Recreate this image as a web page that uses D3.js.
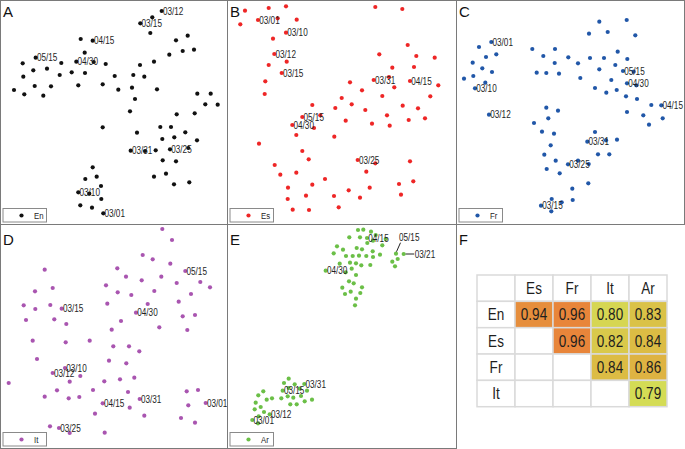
<!DOCTYPE html>
<html><head><meta charset="utf-8">
<script src="https://cdn.jsdelivr.net/npm/d3@7"></script>
<style>
html,body{margin:0;padding:0;background:#fff;}
svg{display:block;}
</style></head>
<body>
<svg id="chart" width="685" height="449"></svg>
<script>
// ---- DATA (embedding coordinates, panel units 0..228 x 0..224) ----
const enPoints = [
 [161.7,11,"03/12"],[152.3,17.3],[140.3,23.3,"03/15"],[150.3,33],[80.7,39],[92.7,40.7,"04/15"],
 [187.7,35.7],[176,40.3],[182.7,51],[194,49.7],[169.3,54.7],[84.7,52.7],[35.7,57.7,"05/15"],
 [22.7,63.3],[61.3,63],[76.3,61.7,"04/30"],[93.7,62],[105.7,64],[154,61.7],[140,65],
 [33.3,70.3],[47,68.7],[23.3,76.7],[59.7,75],[71.7,72.3],[85,73],[114.7,76],[133.3,75],[144.3,76.7],
 [14,90],[24.3,94.3],[34.7,86],[43.3,95.7],[51,86.3],[78.3,85.3],[102.7,84.3],[118.3,89.7],[132,87.7],
 [157,89.3],[135,99],[130,111.3],[197.3,93.7],[210.7,93.7],[205.3,104.3],[217.7,104.7],[194.7,113.3],
 [176.7,114.3],[102.7,127.3],[160.3,127],[171,127],[137,132.7],[162.3,139],[174.3,137.3],[185.3,132.3],
 [197,140.3],[130.7,150.7,"03/31"],[145,151],[155.7,150.3],[170,149.3,"03/25"],[188.3,148],
 [162.7,160.3],[176,161.3],[154,176.7],[166,173.7],[174,184.3],[189.3,182.3],
 [92.7,167.3],[85.3,179],[96.7,176.7],[101,186],[78.3,192.3,"03/10"],[89.3,193.7],[101.3,199],
 [80.3,205.3],[92,207.7],[103.3,213.3,"03/01"]
];
const esPoints = [
 [18,10.7],[41.7,8],[59,6.3],[148.3,7],[175.3,9],[13.3,24.3],[31,20,"03/01"],[50.7,18.3],[69.7,19.7],
 [59,32.7,"03/10"],[46,38.7],[180.7,45],[47.3,54,"03/12"],[59.7,61.7],[152.3,54.3],[189.3,56],[207.7,57.7],
 [41.7,65],[54.7,73,"03/15"],[165.3,67.7],[187,67],[38.3,81.3],[37.7,94],[146.7,80,"03/31"],[162,77],
 [183,81,"04/15"],[123,82.3],[167.3,87.3],[211.3,85.3],[135,90.3],[114.7,98],[155.3,96],[203.3,96.3],
 [85.3,105],[124.7,104.3],[108.3,108],[138.3,110],[175.7,105.7],[191,108.3],[75.3,117,"05/15"],[93.3,115.3],
 [160,115.3],[181.7,120],[198,118.3],[118.7,120.7],[65.3,125,"04/30"],[87,128],[145,123.7],[162.7,125.7],
 [69.3,135],[107.3,136.7],[32,143.7],[75.3,151],[130.7,160,"03/25"],[148.3,163.3],[81.7,159.3],[183,161.3],
 [47.7,165],[53.3,174.7],[69.3,172.7],[139.3,171.7],[98,179],[85.3,184.7],[172,184],[186.3,181.3],
 [61,187.7],[121.7,190.3],[142.7,187.7],[60.7,199],[79,195.7],[107,196],[133,197.7],[174,194.7],
 [65.7,209.7],[82,210],[111.7,207.3]
];
const frPoints = [
 [143.3,21.7],[170.7,20],[133,33.7],[151.7,32],[179.3,35.3],[35.3,42,"03/01"],[23,47],[76.3,49],[99,49],
 [40.3,54.3],[30,57],[87.3,56],[161.7,51.7],[112.3,57.3],[134,58],[148,58],[171.3,59],[16.7,62.7],
 [98.7,63],[122,63.3],[159.3,65],[26.3,68.3],[36,72],[80.7,72.7],[90.3,73],[103,73.7],[143.3,69.3],
 [167,71,"05/15"],[177.7,71.7],[8,78.7],[17.3,76],[29.3,82.7],[124.3,78],[155.3,80],[171,83.3,"04/30"],
 [180.3,85.3],[19,88.3,"03/10"],[139,88],[150.3,92.7],[160.7,90],[170,96.3],[181,99],[195.3,105],
 [205.3,105.3,"04/15"],[171,112],[187.3,115.3],[206.7,118.3],[193,124.7],[33,114.7,"03/12"],
 [90.3,107.7],[102,110.7],[92.3,118.3],[78,123],[86,131.7],[98,133.7],[139,132],[131.3,141.7,"03/31"],
 [150,140.3],[161,139.7],[94.7,145.3],[88.3,154.7],[142,154.3],[153.3,154.3],[99.7,160.7],
 [112,164.3,"03/25"],[122,160.7],[132.7,164],[90.7,169],[103.7,173.3],[132.3,183.3],[116.3,188.7],
 [116.7,200],[95.7,199],[105.7,202.3],[85,205.7,"03/15"],[95.3,211.3]
];
const itPoints = [
 [162.3,5],[172,16],[142.7,31],[152.7,35.3],[170.3,39.7],[44.7,45.7],[117.3,44.3],[185.3,47,"05/15"],
 [126,52.7],[141.7,56.3],[161.3,52.7],[176.7,59],[200.3,58],[210,63.3],[106,61.3],[52.7,64],[35,67.3],
 [117.7,68.3],[131.3,71],[154.3,67],[191,70],[23.7,81.3],[35.3,85],[50.3,81],[61.7,84.7,"03/15"],
 [107.3,79.7],[147.7,80],[178.7,77.7],[136,88.7,"04/30"],[182.7,92.3],[195,91],[26,96],[54.3,95.3],
 [66.3,100],[121,97],[111.7,105.7],[159.3,103.3],[187.3,106],[32.7,116.7],[65.7,118.3],[89.7,116.7],
 [113.3,122.3],[129,122.3],[139.3,127.3],[37,135],[109,136.7],[126.3,139.3],[65,144,"03/10"],
 [52.7,149,"03/12"],[80.3,152],[69.7,157.7],[8.7,159],[104.3,157.3],[120,155.3],[134.3,153.7],
 [57,166.3],[93,166],[128,168],[186.7,167.3],[198,166],[44.7,172.7],[68.7,174.3],[79.3,173],
 [139.7,175,"03/31"],[102.7,179.3,"04/15"],[129.7,183.7],[188.3,181.3],[205.7,179,"03/01"],
 [95,189.7],[144.3,191.7],[181,194],[195,198.7],[50,202.3],[59,204,"03/25"],[69.7,209],[104.7,208.7]
];
const arPoints = [
 [131,6],[136.3,5.7],[144,7.7],[122.3,13.3],[133,13.3],[148.7,11],[140,14,"04/15"],[158.7,15],
 [146,16.7],[140.3,19],[155.3,21.3],[110,22.3],[116,25.7],[129.7,24],[135,25.3],[145.7,27.3],
 [106.7,29.3],[119,32],[125.7,32],[132,31.7],[139.3,32],[146,33],[153,30.7],[169,29.7,"05/15"],
 [176.7,30,"03/21"],[170.7,35],[165.3,37.7],[168,42.3],[112.7,39.7],[123,38.7],[129,39.3],[134.3,41.3],
 [143.3,41],[98.7,46.7,"04/30"],[118.7,48.3],[124.7,44.7],[129,51],[122,57.3],[126.7,59.3],[115.3,63.7],
 [135,63.3],[123.7,67.7],[118,70],[133.3,69],[129,74.7],[128,81.3],
 [61.7,154.7],[57,159],[67.7,160.3],[77.3,160,"03/31"],[61.7,164],[72.7,164.7],[55.7,166.7,"03/15"],
 [80,166.7],[36.3,167.3],[31.3,171.3],[60.7,172.3],[74,172],[66.3,173.7],[54.3,174.3],[45,174.3],
 [39.7,175.7],[85,175.7],[77.7,177.3],[28.7,178.7],[63.3,180.3],[69.7,180.3],[33.7,183],[27.7,185.3],
 [37,188],[42.7,190.3,"03/12"],[31.7,192.3],[25.3,196,"03/01"],[31,199.3]
];
const seriesNames = ["En","Es","Fr","It","Ar"];
const panelLetters = ["A","B","C","D","E","F"];
const matrixCols = ["Es","Fr","It","Ar"];
const matrixRows = ["En","Es","Fr","It"];
const matrixValues = [
 [0.94,0.96,0.80,0.83],
 [null,0.96,0.82,0.84],
 [null,null,0.84,0.86],
 [null,null,null,0.79]
];

// ---- STYLE / LAYOUT ----
const colors = {En:"#111111",Es:"#ee2626",Fr:"#2157a8",It:"#a955b0",Ar:"#6bbf47"};
const allPoints = {En:enPoints,Es:esPoints,Fr:frPoints,It:itPoints,Ar:arPoints};
const panelBoxes = [
 {x:0.5,y:0.5,w:227,h:224},
 {x:227.5,y:0.5,w:229,h:224},
 {x:456.5,y:0.5,w:228,h:224},
 {x:0.5,y:224.5,w:227,h:224},
 {x:227.5,y:224.5,w:229,h:224}
];
const leaderLabels = {"Ar:05/15":{tx:3,ty:-16,lx1:0.5,ly1:-2,lx2:4.5,ly2:-11},
                      "Ar:03/21":{tx:11,ty:0,lx1:2,ly1:0,lx2:10.5,ly2:0}};

const svg = d3.select("#chart");
const FONT = "'Liberation Sans',Arial,Helvetica,sans-serif";
const SQ = 0.82; // horizontal condensing to mimic a narrow face

function ntext(g, x, y, str, size, anchor){
  return g.append("text")
    .attr("transform",`translate(${x},${y}) scale(${SQ},1)`)
    .attr("dy","0.36em")
    .attr("text-anchor",anchor||"start")
    .attr("font-family",FONT).attr("font-size",size).attr("fill","#1e1e1e")
    .text(str);
}

seriesNames.forEach((name,i)=>{
  const b = panelBoxes[i];
  const g = svg.append("g");
  const x = d3.scaleLinear().domain([0,228]).range([b.x-0.5, b.x-0.5+228]);
  const y = d3.scaleLinear().domain([0,224]).range([b.y-0.5, b.y-0.5+224]);
  g.append("rect").attr("x",b.x).attr("y",b.y).attr("width",b.w).attr("height",b.h)
    .attr("fill","none").attr("stroke","#7a7a7a").attr("stroke-width",1);
  const pts = allPoints[name];
  g.selectAll("circle.pt").data(pts).join("circle").attr("class","pt")
    .attr("cx",d=>x(d[0])).attr("cy",d=>y(d[1])).attr("r",2.1).attr("fill",colors[name]);
  pts.filter(d=>d[2]).forEach(d=>{
    const L = leaderLabels[name+":"+d[2]];
    if(L){
      g.append("line").attr("x1",x(d[0])+L.lx1).attr("y1",y(d[1])+L.ly1)
        .attr("x2",x(d[0])+L.lx2).attr("y2",y(d[1])+L.ly2)
        .attr("stroke","#222").attr("stroke-width",1);
      ntext(g, x(d[0])+L.tx, y(d[1])+L.ty, d[2], 10);
    } else {
      ntext(g, x(d[0])+1.2, y(d[1]), d[2], 10);
    }
  });
  // legend
  g.append("rect").attr("x",x(3)).attr("y",y(208.5)).attr("width",43.5).attr("height",13.5)
    .attr("fill","#fff").attr("stroke","#8a8a8a").attr("stroke-width",1);
  g.append("circle").attr("cx",x(21.5)).attr("cy",y(215.5)).attr("r",2.1).attr("fill",colors[name]);
  ntext(g, x(34), y(215.5), name, 9.5);
  // panel letter
  g.append("text").attr("x",b.x+2.5).attr("y",i<3?17:244.5)
    .attr("font-family",FONT).attr("font-size",15).attr("fill","#111")
    .text(panelLetters[i]);
});

// ---- Panel F: similarity matrix ----
svg.append("text").attr("x",459).attr("y",245)
  .attr("font-family",FONT).attr("font-size",14.5).attr("fill","#111")
  .text(panelLetters[5]);
const fx = d3.scaleBand().domain(["",...matrixCols]).range([477,667]);
const fy = d3.scaleBand().domain(["",...matrixRows]).range([275,406.7]);
const cScale = d3.scaleLinear().domain([0.79,0.84,0.96]).range(["#d4dc55","#dcbc44","#e8853a"]);
const cells = [];
["",...matrixRows].forEach((r,ri)=>{
  ["",...matrixCols].forEach((c,ci)=>{
    let v=null, txt="";
    if(ri===0 && ci>0) txt=c;
    else if(ci===0 && ri>0) txt=r;
    else if(ri>0 && ci>0){ v = matrixValues[ri-1][ci-1]; if(v!==null) txt=v.toFixed(2); }
    cells.push({r,c,v,txt});
  });
});
const fg = svg.append("g");
fg.selectAll("rect").data(cells).join("rect")
  .attr("x",d=>fx(d.c)).attr("y",d=>fy(d.r)).attr("width",fx.bandwidth()).attr("height",fy.bandwidth())
  .attr("fill",d=>d.v===null?"#fff":cScale(d.v)).attr("stroke","#dadada").attr("stroke-width",1.5);
cells.filter(d=>d.txt).forEach(d=>{
  ntext(fg, fx(d.c)+fx.bandwidth()/2, fy(d.r)+fy.bandwidth()/2, d.txt, 16.5, "middle");
});
</script>
</body></html>
